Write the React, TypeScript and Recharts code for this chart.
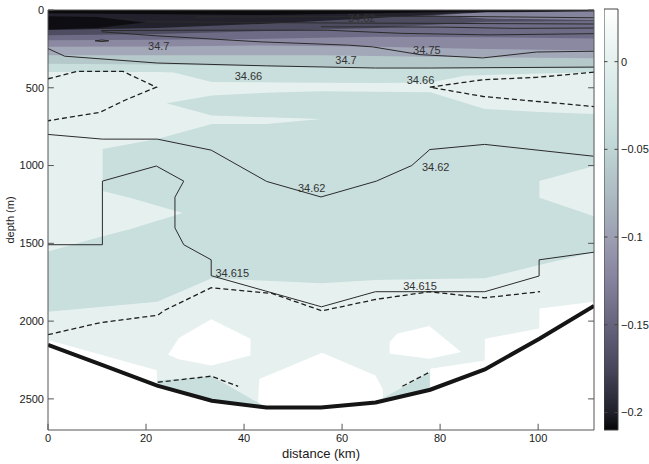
import React from "react";
import {
  ComposedChart,
  Area,
  Line,
  Scatter,
  XAxis,
  YAxis,
  ReferenceLine,
  ReferenceArea,
} from "recharts";

const FONT = '"Liberation Sans", Arial, Helvetica, sans-serif';
const X_MAX = 111.4;
const Y_MAX = 2700;

const xTicks = [0, 20, 40, 60, 80, 100];
const yTicks = [0, 500, 1000, 1500, 2000, 2500];
const barTicks = [-0.2, -0.15, -0.1, -0.05, 0];
const barDomain = [-0.21, 0.03];

// [km, depth of lower edge] - filled from the surface down
const bandTeal = [[0, 399], [11.14, 399], [22.28, 399], [25.6, 402], [33.42, 463], [55.7, 468], [66.84, 470], [77.98, 466], [85, 422], [100.26, 408], [111.4, 400]];
const bandGrayTeal = [[0, 345], [22.28, 350], [44.56, 362], [66.84, 370], [89.12, 372], [111.4, 375]];
const bandSlate = [[0, 291], [22.28, 291], [55.7, 291], [77.98, 300], [111.4, 310]];
const bandLavender = [[0, 237], [22.28, 235], [44.56, 228], [66.84, 237], [89.12, 250], [111.4, 260]];
const bandPurple = [[0, 194], [22.28, 192], [44.56, 185], [66.84, 172], [89.12, 175], [111.4, 183]];
const bandDusk = [[0, 162], [22.28, 155], [44.56, 135], [66.84, 116], [89.12, 75], [111.4, 70]];
const bandNight = [[0, 129], [22.28, 115], [44.56, 88], [66.84, 52], [85, 20], [111.4, 10]];
const bandBlack = [[0, 21], [44.56, 32], [66.84, 21], [85, 12], [111.4, 5]];

// [km, top depth, bottom depth]
const streakDark = [[0, 40, 125], [10, 45, 115], [19.7, 80, 80]];
const streakPale = [[78.5, 35, 35], [89.5, 15, 55], [111.4, 10, 65]];
const tealMain = [[0, 1552, 1940], [11.13, 1455, 1908], [11.14, 894, 1908], [22.28, 830, 1876], [33.42, 733, 1725], [44.56, 733, 1740], [55.7, 700, 1757], [55.71, 522, 1757], [66.84, 525, 1736], [77.98, 528, 1730], [89.12, 636, 1725], [100.26, 655, 1639], [111.4, 668, 1557]];
const tealIsland = [[24.2, 600, 600], [33.42, 550, 679], [44.56, 532, 690], [55.7, 522, 700]];
const lightWedgeWest = [[11.14, 1164, 1455], [16.7, 1207, 1410], [27.5, 1305, 1305]];
const lightWedgeEast = [[100.26, 1100, 1207], [111.4, 1003, 1326]];
const whiteBlobWest = [[24.5, 2216, 2216], [26.7, 2109, 2245], [33.3, 1988, 2285], [41.3, 2113, 2221]];
const whiteBlobEast = [[69.7, 2134, 2210], [71.2, 2081, 2215], [77.8, 2031, 2242], [84.3, 2199, 2199]];
const tealStripWest = [[22.28, 2382, 2415], [33.42, 2354, 2505], [44.2, 2548, 2550]];
const tealStripEast = [[66.84, 2521, 2523], [77.9, 2329, 2441]];

// [km, depth] - filled down to the bottom of the plot
const whiteFloor = [[0, 2122], [22.2, 2316], [22.28, 2395], [33.42, 2505], [42.8, 2548], [43.1, 2372], [45.7, 2339], [55.9, 2203], [66.8, 2350], [68.3, 2436], [68.4, 2520], [77.98, 2441], [78, 2307], [89.1, 2253], [89.15, 2113], [100.2, 2048], [100.3, 1919], [111.4, 1876]];

// contour lines [km, depth]
const topo = [[0, 2152], [11.14, 2283], [22.28, 2415], [33.42, 2512], [44.56, 2555], [55.7, 2555], [66.84, 2523], [77.98, 2441], [89.12, 2311], [100.26, 2113], [111.4, 1902]];
const c3466 = [[0, 248], [3.4, 297], [22.3, 341], [44.6, 359], [66.8, 373], [78, 373], [111.4, 367]];
const c347 = [[10.9, 140], [22.1, 166], [43.5, 205], [55.5, 219], [61.3, 226], [66.2, 237], [75.9, 287], [88.7, 308], [99.7, 270], [111.4, 265]];
const c3475 = [[10.9, 132], [30, 130], [57, 130], [72, 150], [90, 160], [111.4, 152]];
const c3462Top = [[20, 75], [40, 80], [61.3, 84], [80, 86], [111.4, 90]];
const cMid = [[55.7, 108], [80, 110], [95, 118], [111.4, 116]];
const cShallow = [[30, 45], [55.7, 43], [80, 40], [111.4, 50]];
const c3462 = [[0, 800], [11.1, 830], [22.3, 830], [33.3, 901], [44.6, 1102], [55.7, 1202], [67, 1100], [74.2, 1000], [77.9, 897], [89.1, 864], [111.3, 940]];
const c34615 = [[0, 1509], [11.1, 1509], [11.1, 1100], [22.1, 1003], [27.7, 1100], [25.9, 1203], [25.9, 1401], [27.7, 1509], [33.3, 1606], [33.3, 1708], [55.8, 1908], [66.8, 1811], [89.1, 1811], [100.2, 1710], [100.2, 1606], [111.4, 1557]];
const eddy = [[9.6, 198], [11, 193], [12.4, 198], [11, 203], [9.6, 198]];

// dashed contours
const dWestLoop = [[0, 442], [5.8, 395], [15.3, 395], [22.1, 496], [15.7, 580], [10.6, 658], [0, 712]];
const dEastWedge = [[111.4, 400], [99.7, 433], [88.8, 448], [77.9, 496], [88.8, 556], [111.4, 621]];
const dDeep = [[0, 2087], [10.7, 2010], [22.4, 1962], [23.8, 1930], [33.3, 1785], [45.7, 1822], [55.9, 1934], [66.8, 1861], [77.8, 1811], [89.1, 1850], [100.4, 1811]];
const dFloorWest = [[22.4, 2393], [33.3, 2354], [38.8, 2419]];
const dFloorEast = [[72.3, 2419], [77.8, 2329]];

const labels = [
  { km: 64, d: 54, text: "34.62" },
  { km: 22.6, d: 233, text: "34.7" },
  { km: 60.8, d: 319, text: "34.7" },
  { km: 77.3, d: 259, text: "34.75" },
  { km: 40.9, d: 427, text: "34.66" },
  { km: 76, d: 448, text: "34.66" },
  { km: 53.8, d: 1143, text: "34.62" },
  { km: 79.1, d: 1009, text: "34.62" },
  { km: 37.6, d: 1693, text: "34.615" },
  { km: 75.9, d: 1772, text: "34.615" },
];

const fromSurface = (pts: number[][]) => pts.map(([km, d]) => ({ km, r: [0, d] }));
const toBottom = (pts: number[][]) => pts.map(([km, d]) => ({ km, r: [d, Y_MAX] }));
const between = (pts: number[][]) => pts.map(([km, a, b]) => ({ km, r: [a, b] }));
const path = (pts: number[][]) => pts.map(([km, d]) => ({ km, d }));

const LIGHT = "#e6f1ef";
const TEAL = "#c8dfdd";

const fills: [string, { km: number; r: number[] }[]][] = [
  [LIGHT, [{ km: 0, r: [0, Y_MAX] }, { km: X_MAX, r: [0, Y_MAX] }]],
  [TEAL, fromSurface(bandTeal)],
  ["#b5c8ca", fromSurface(bandGrayTeal)],
  ["#a3a8b9", fromSurface(bandSlate)],
  ["#8b89a2", fromSurface(bandLavender)],
  ["#6d6b85", fromSurface(bandPurple)],
  ["#4d4c61", fromSurface(bandDusk)],
  ["#23222c", fromSurface(bandNight)],
  ["#0b0b0e", fromSurface(bandBlack)],
  ["#0e0e12", between(streakDark)],
  ["#84849c", between(streakPale)],
  [TEAL, between(tealMain)],
  [TEAL, between(tealIsland)],
  [LIGHT, between(lightWedgeWest)],
  [LIGHT, between(lightWedgeEast)],
  ["#ffffff", between(whiteBlobWest)],
  ["#ffffff", between(whiteBlobEast)],
  ["#ffffff", toBottom(whiteFloor)],
  [TEAL, between(tealStripWest)],
  [TEAL, between(tealStripEast)],
];

const solidLines = [c3466, c347, c3475, c3462Top, cMid, cShallow, c3462, c34615, eddy];
const dashedLines = [dWestLoop, dEastWedge, dDeep, dFloorWest, dFloorEast];

const barStops = [
  [0, "#ffffff"],
  [0.126, "#e3f0ee"],
  [0.24, "#cfe4e2"],
  [0.342, "#bed3d4"],
  [0.454, "#aab7bf"],
  [0.549, "#9b9db1"],
  [0.644, "#85829d"],
  [0.753, "#65637b"],
  [0.857, "#46455a"],
  [0.96, "#1f1f29"],
  [1, "#050507"],
];

const tickStyle = { fontSize: 11, fill: "#1a1a1a", fontFamily: FONT };

const LabelText = (p: any) => (
  <text
    x={p.cx}
    y={p.cy}
    textAnchor="middle"
    dominantBaseline="central"
    fontSize={11}
    fontFamily={FONT}
    fill="#333"
  >
    {p.payload.text}
  </text>
);

export default function App() {
  return (
    <div style={{ position: "absolute", left: 0, top: 0, width: 649, height: 464, background: "#fff" }}>
      <div style={{ position: "absolute", left: 0, top: 0 }}>
        <ComposedChart width={649} height={464} margin={{ top: 10, right: 55, bottom: 0, left: 0 }}>
          <XAxis
            type="number"
            dataKey="km"
            domain={[0, X_MAX]}
            ticks={xTicks}
            allowDataOverflow
            height={34}
            tickLine={false}
            tickSize={0}
            tickMargin={4}
            axisLine={{ stroke: "#555" }}
            tick={tickStyle}
            label={{ value: "distance (km)", position: "insideBottom", offset: 6, fontSize: 13, fill: "#1a1a1a", fontFamily: FONT }}
          />
          <YAxis
            type="number"
            domain={[0, Y_MAX]}
            reversed
            ticks={yTicks}
            allowDataOverflow
            width={48}
            tickLine={false}
            tickSize={0}
            tickMargin={4}
            axisLine={{ stroke: "#555" }}
            tick={tickStyle}
            label={{ value: "depth (m)", angle: -90, position: "insideLeft", offset: 10, fontSize: 11, fill: "#1a1a1a", fontFamily: FONT, style: { textAnchor: "middle" } }}
          />
          {fills.map(([color, data], i) => (
            <Area
              key={"f" + i}
              data={data}
              dataKey="r"
              type="linear"
              fill={color}
              fillOpacity={1}
              stroke="none"
              isAnimationActive={false}
              activeDot={false}
              dot={false}
            />
          ))}
          {solidLines.map((pts, i) => (
            <Line
              key={"s" + i}
              data={path(pts)}
              dataKey="d"
              type="linear"
              stroke="#2b2b2b"
              strokeWidth={1}
              dot={false}
              activeDot={false}
              isAnimationActive={false}
            />
          ))}
          {dashedLines.map((pts, i) => (
            <Line
              key={"d" + i}
              data={path(pts)}
              dataKey="d"
              type="linear"
              stroke="#1e1e1e"
              strokeWidth={1.3}
              strokeDasharray="5 3"
              dot={false}
              activeDot={false}
              isAnimationActive={false}
            />
          ))}
          <Line
            data={path(topo)}
            dataKey="d"
            type="linear"
            stroke="#151515"
            strokeWidth={4}
            dot={false}
            activeDot={false}
            isAnimationActive={false}
          />
          <Scatter data={labels} dataKey="d" shape={LabelText} isAnimationActive={false} />
          <ReferenceLine y={0} stroke="#555" />
          <ReferenceLine x={X_MAX} stroke="#555" />
          {xTicks.map((t) => (
            <ReferenceLine key={"xt" + t} segment={[{ x: t, y: Y_MAX }, { x: t, y: Y_MAX - 40 }]} stroke="#555" />
          ))}
          {yTicks.map((t) => (
            <ReferenceLine key={"yl" + t} segment={[{ x: 0, y: t }, { x: 1.2, y: t }]} stroke="#555" />
          ))}
          {yTicks.map((t) => (
            <ReferenceLine key={"yr" + t} segment={[{ x: X_MAX - 1.2, y: t }, { x: X_MAX, y: t }]} stroke="#555" />
          ))}
        </ComposedChart>
      </div>
      <div style={{ position: "absolute", left: 604, top: 0 }}>
        <ComposedChart width={50} height={464} data={[{ x: 0 }, { x: 1 }]} margin={{ top: 9, right: 0, bottom: 34, left: 0 }}>
          <defs>
            <linearGradient id="colorbar" x1="0" y1="0" x2="0" y2="1">
              {barStops.map(([o, c]) => (
                <stop key={String(o)} offset={o as number} stopColor={c as string} />
              ))}
            </linearGradient>
          </defs>
          <XAxis type="number" dataKey="x" domain={[0, 1]} hide />
          <YAxis
            type="number"
            domain={barDomain}
            ticks={barTicks}
            orientation="right"
            allowDataOverflow
            width={36}
            axisLine={false}
            tickLine={false}
            tickSize={0}
            tickMargin={3}
            tick={tickStyle}
            tickFormatter={(v: number) => String(v).replace("-", "\u2212")}
          />
          <ReferenceArea x1={0} x2={1} y1={barDomain[0]} y2={barDomain[1]} fill="url(#colorbar)" fillOpacity={1} stroke="#444" />
          {barTicks.map((t) => (
            <ReferenceLine key={"bl" + t} segment={[{ x: 0, y: t }, { x: 0.25, y: t }]} stroke="#444" />
          ))}
          {barTicks.map((t) => (
            <ReferenceLine key={"br" + t} segment={[{ x: 0.75, y: t }, { x: 1, y: t }]} stroke="#444" />
          ))}
        </ComposedChart>
      </div>
    </div>
  );
}
